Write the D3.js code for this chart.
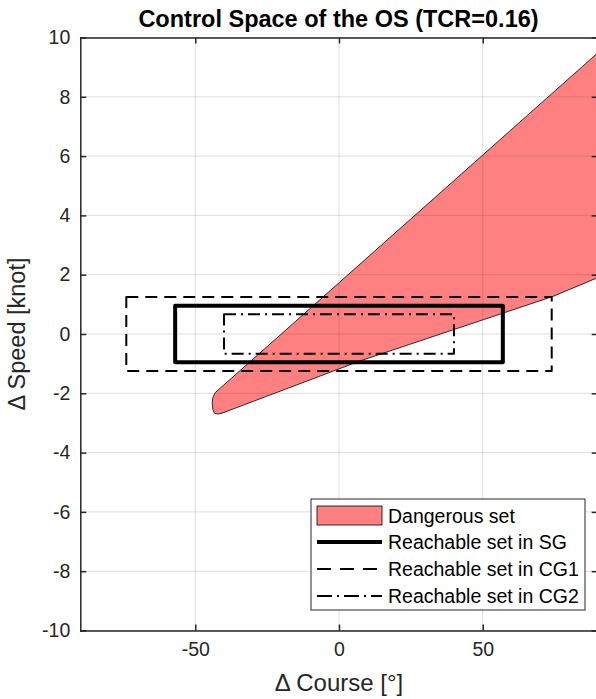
<!DOCTYPE html>
<html>
<head>
<meta charset="utf-8">
<script src="https://cdn.jsdelivr.net/npm/d3@7"></script>
<style>
  body { margin: 0; background: #fff; }
  svg { display: block; font-family: "Liberation Sans", Arial, Helvetica, sans-serif; }
</style>
</head>
<body>
<div id="container"></div>
<script>
// chart values
var courseTicks = [-50, 0, 50];
var speedTicks = [-10, -8, -6, -4, -2, 0, 2, 4, 6, 8, 10];

// dangerous set outline (course deg, speed knot)
var dangerCourse = [-43.1, -8.9, 90, 90, 74.2, 7.3, -40.7, -42.2, -43.3, -43.9, -44.1, -43.9];
var dangerSpeed  = [-1.98, 0.96, 9.48, 1.9, 1.26, -0.91, -2.67, -2.70, -2.67, -2.55, -2.34, -2.15];

// reachable sets, symmetric boxes around the origin
var setNames = ["Reachable set in SG", "Reachable set in CG1", "Reachable set in CG2"];
var courseHalf = [57, 74, 40];
var speedHalf = [0.95, 1.25, 0.67];
var setStyles = [
  { width: 4, dash: null, legendDash: null },
  { width: 2, dash: "12,7", legendDash: "14,9" },
  { width: 2, dash: "12,5,2,5", legendDash: "15,5,2,5" }
];

var W = 596, H = 699;
var svg = d3.select("#container").append("svg").attr("width", W).attr("height", H);

var x = d3.scaleLinear().domain([-90, 90]).range([80.3, 597.7]);
var y = d3.scaleLinear().domain([-10, 10]).range([630.5, 37.5]);

// dangerous set
var pts = dangerCourse.map(function (c, i) { return [c, dangerSpeed[i]]; });
svg.append("path")
  .datum(pts)
  .attr("d", d3.line().x(function (d) { return x(d[0]); }).y(function (d) { return y(d[1]); }).curve(d3.curveLinearClosed))
  .attr("fill", "#ff8080")
  .attr("stroke", "#000")
  .attr("stroke-width", 0.8)
  .attr("stroke-linejoin", "round");

// grid on top like matlab
var grid = svg.append("g").attr("stroke", "#262626").attr("stroke-opacity", 0.15).attr("stroke-width", 1);
grid.selectAll(".gx").data(courseTicks).enter().append("line")
  .attr("x1", function (d) { return x(d); }).attr("x2", function (d) { return x(d); })
  .attr("y1", y(10)).attr("y2", y(-10));
grid.selectAll(".gy").data(speedTicks).enter().append("line")
  .attr("y1", function (d) { return y(d); }).attr("y2", function (d) { return y(d); })
  .attr("x1", x(-90)).attr("x2", x(90));

// reachable boxes
svg.selectAll(".box").data(setNames).enter().append("rect")
  .attr("x", function (d, i) { return x(-courseHalf[i]); })
  .attr("y", function (d, i) { return y(speedHalf[i]); })
  .attr("width", function (d, i) { return x(courseHalf[i]) - x(-courseHalf[i]); })
  .attr("height", function (d, i) { return y(-speedHalf[i]) - y(speedHalf[i]); })
  .attr("fill", "none")
  .attr("stroke", "#000")
  .attr("stroke-width", function (d, i) { return setStyles[i].width; })
  .attr("stroke-dasharray", function (d, i) { return setStyles[i].dash; })
  .attr("stroke-linejoin", "round");

// axes, ticks inward on all four sides
var tickLen = 6;
var fmt = function (d) { return String(d); };
var xAxisB = d3.axisBottom(x).tickValues(courseTicks).tickSizeInner(-tickLen).tickSizeOuter(0).tickPadding(12).tickFormat(fmt);
var xAxisT = d3.axisTop(x).tickValues(courseTicks).tickSizeInner(-tickLen).tickSizeOuter(0).tickFormat("");
var yAxisL = d3.axisLeft(y).tickValues(speedTicks).tickSizeInner(-tickLen).tickSizeOuter(0).tickPadding(10).tickFormat(fmt);
var yAxisR = d3.axisRight(y).tickValues(speedTicks).tickSizeInner(-tickLen).tickSizeOuter(0).tickFormat("");

function styleAxis(g) {
  g.selectAll("path").attr("stroke", "#262626").attr("stroke-width", 1.5);
  g.selectAll("line").attr("stroke", "#262626").attr("stroke-width", 1.5);
  g.selectAll("text").attr("fill", "#262626").style("font-size", "19.5px");
}

svg.append("g").attr("transform", "translate(0," + y(-10) + ")").call(xAxisB).call(styleAxis);
svg.append("g").attr("transform", "translate(0," + y(10) + ")").call(xAxisT).call(styleAxis);
svg.append("g").attr("transform", "translate(" + x(-90) + ",0)").call(yAxisL).call(styleAxis);
svg.append("g").attr("transform", "translate(" + x(90) + ",0)").call(yAxisR).call(styleAxis);
svg.selectAll("g[font-family]").attr("font-family", null);
svg.selectAll(".domain").attr("stroke-linecap", "square");

// title and labels
svg.append("text")
  .attr("x", 338.5).attr("y", 27)
  .attr("text-anchor", "middle")
  .style("font-size", "23.5px").style("font-weight", "bold")
  .text("Control Space of the OS (TCR=0.16)");

svg.append("text")
  .attr("x", x(0)).attr("y", 691)
  .attr("text-anchor", "middle")
  .attr("fill", "#262626")
  .style("font-size", "24px")
  .text("\u0394 Course [\u00b0]");

svg.append("text")
  .attr("transform", "translate(25," + y(0) + ") rotate(-90)")
  .attr("text-anchor", "middle")
  .attr("fill", "#262626")
  .style("font-size", "23.5px")
  .text("\u0394 Speed [knot]");

// legend
var lg = svg.append("g").attr("transform", "translate(311,499)");
lg.append("rect").attr("width", 274).attr("height", 111)
  .attr("fill", "#fff").attr("stroke", "#262626").attr("stroke-width", 1);
var rowY = [17, 43, 70, 97];
lg.append("rect").attr("x", 6).attr("y", rowY[0] - 10).attr("width", 65).attr("height", 19)
  .attr("fill", "#ff8080").attr("stroke", "#000").attr("stroke-width", 0.8);
lg.append("text").attr("x", 77).attr("y", rowY[0]).attr("dy", "0.35em")
  .style("font-size", "19.5px").text("Dangerous set");
setNames.forEach(function (name, i) {
  lg.append("line").attr("x1", 6).attr("x2", 71).attr("y1", rowY[i + 1]).attr("y2", rowY[i + 1])
    .attr("stroke", "#000")
    .attr("stroke-width", setStyles[i].width)
    .attr("stroke-dasharray", setStyles[i].legendDash);
  lg.append("text").attr("x", 77).attr("y", rowY[i + 1]).attr("dy", "0.35em")
    .style("font-size", "19.5px").text(name);
});
</script>
</body>
</html>
